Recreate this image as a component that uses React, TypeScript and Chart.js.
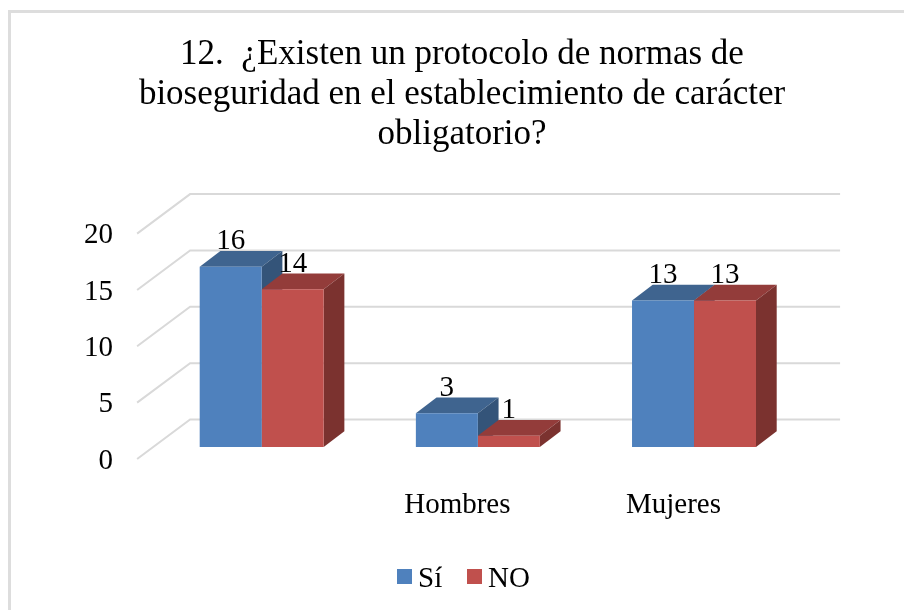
import React, { useEffect, useRef } from "react";
import { Chart, registerables } from "chart.js";

Chart.register(...registerables);

const categories = ["", "Hombres", "Mujeres"];
const siValues = [16, 3, 13];
const noValues = [14, 1, 13];
const titleLines = [
  "12.  ¿Existen un protocolo de normas de",
  "bioseguridad en el establecimiento de carácter",
  "obligatorio?",
];

const SERIF = '"Liberation Serif"';
const FS = 29;
const BAR_DX = 20.7;
const BAR_DY = -15.7;

const poly = (ctx: CanvasRenderingContext2D, pts: number[][], fill: string) => {
  ctx.fillStyle = fill;
  ctx.beginPath();
  pts.forEach((p, i) => (i ? ctx.lineTo(p[0], p[1]) : ctx.moveTo(p[0], p[1])));
  ctx.closePath();
  ctx.fill();
};

const depthPlugin = {
  id: "depth",
  beforeDatasetsDraw(chart: any) {
    const { ctx, chartArea, scales } = chart;
    ctx.save();
    ctx.strokeStyle = "#D9D9D9";
    ctx.lineWidth = 2;
    scales.y.ticks.forEach((t: any) => {
      const y = scales.y.getPixelForValue(t.value);
      ctx.beginPath();
      ctx.moveTo(chartArea.left - 16.5, y + 12);
      ctx.lineTo(chartArea.left + 36.5, y - 27.5);
      ctx.lineTo(chartArea.right + 38, y - 27.5);
      ctx.stroke();
    });
    chart.data.datasets.forEach((ds: any, i: number) => {
      chart.getDatasetMeta(i).data.forEach((bar: any) => {
        const l = bar.x - bar.width / 2;
        const r = bar.x + bar.width / 2;
        poly(ctx, [[l, bar.y], [l + BAR_DX, bar.y + BAR_DY], [r + BAR_DX, bar.y + BAR_DY], [r, bar.y]], ds.topColor);
        poly(ctx, [[r, bar.y], [r + BAR_DX, bar.y + BAR_DY], [r + BAR_DX, bar.base + BAR_DY], [r, bar.base]], ds.sideColor);
      });
    });
    ctx.restore();
  },
  afterDatasetsDraw(chart: any) {
    const { ctx } = chart;
    ctx.save();
    ctx.font = `${FS}px ${SERIF}`;
    ctx.fillStyle = "#000";
    ctx.textAlign = "center";
    ctx.textBaseline = "alphabetic";
    chart.data.datasets.forEach((ds: any, i: number) => {
      chart.getDatasetMeta(i).data.forEach((bar: any, j: number) => {
        ctx.fillText(String(ds.data[j]), bar.x, bar.y - 17.5);
      });
    });
    ctx.textAlign = "left";
    const lx = [397, 467];
    chart.data.datasets.forEach((ds: any, i: number) => {
      ctx.fillStyle = ds.backgroundColor;
      ctx.fillRect(lx[i], 569, 15, 15);
      ctx.fillStyle = "#000";
      ctx.fillText(ds.label, lx[i] + 21, 586.5);
    });
    ctx.restore();
  },
};

export default function App() {
  const ref = useRef<HTMLCanvasElement>(null);
  useEffect(() => {
    const chart = new Chart(ref.current!, {
      type: "bar",
      data: {
        labels: categories,
        datasets: [
          { label: "Sí", data: siValues, backgroundColor: "#4F81BD", topColor: "#3F648F", sideColor: "#345479" } as any,
          { label: "NO", data: noValues, backgroundColor: "#C0504D", topColor: "#933C3A", sideColor: "#7B322F" } as any,
        ],
      },
      options: {
        animation: false,
        responsive: false,
        layout: { padding: { left: 20, right: 0, top: 0, bottom: 0 } },
        datasets: { bar: { categoryPercentage: 0.5735, barPercentage: 1 } },
        plugins: {
          legend: { display: false },
          tooltip: { enabled: false },
          title: {
            display: true,
            text: titleLines,
            color: "#000",
            font: { family: SERIF, size: 35, lineHeight: 1.143, weight: "normal" },
            padding: { top: 35, bottom: 66.6 },
          },
        },
        scales: {
          x: {
            grid: { display: false, drawTicks: false },
            border: { display: false },
            ticks: {
              color: "#000",
              font: { family: SERIF, size: FS },
              padding: 41,
              labelOffset: -20.5,
              autoSkip: false,
              maxRotation: 0,
            },
            afterFit: (s: any) => { s.height = 163; },
          },
          y: {
            min: 0,
            max: 20,
            grid: { display: false, drawTicks: false },
            border: { display: false },
            ticks: {
              stepSize: 5,
              color: "#000",
              font: { family: SERIF, size: FS },
              padding: 40.6,
              labelOffset: 14,
            },
            afterFit: (s: any) => { s.width = 133.6; },
          },
          y2: {
            position: "right",
            display: true,
            grid: { display: false, drawTicks: false },
            border: { display: false },
            ticks: { display: false },
            afterFit: (s: any) => { s.width = 101.9; },
          },
        },
      } as any,
      plugins: [depthPlugin],
    });
    return () => chart.destroy();
  }, []);
  return (
    <div style={{ position: "absolute", left: 0, top: 0, width: 904, height: 610, overflow: "hidden", background: "#fff" }}>
      <canvas ref={ref} width={904} height={610} style={{ display: "block", filter: "blur(0.4px)" }} />
      <div style={{ position: "absolute", left: 8, top: 10, width: 896, height: 3, background: "#DDDDDD", pointerEvents: "none" }} />
      <div style={{ position: "absolute", left: 8, top: 10, width: 3, height: 600, background: "#DDDDDD", pointerEvents: "none" }} />
    </div>
  );
}
